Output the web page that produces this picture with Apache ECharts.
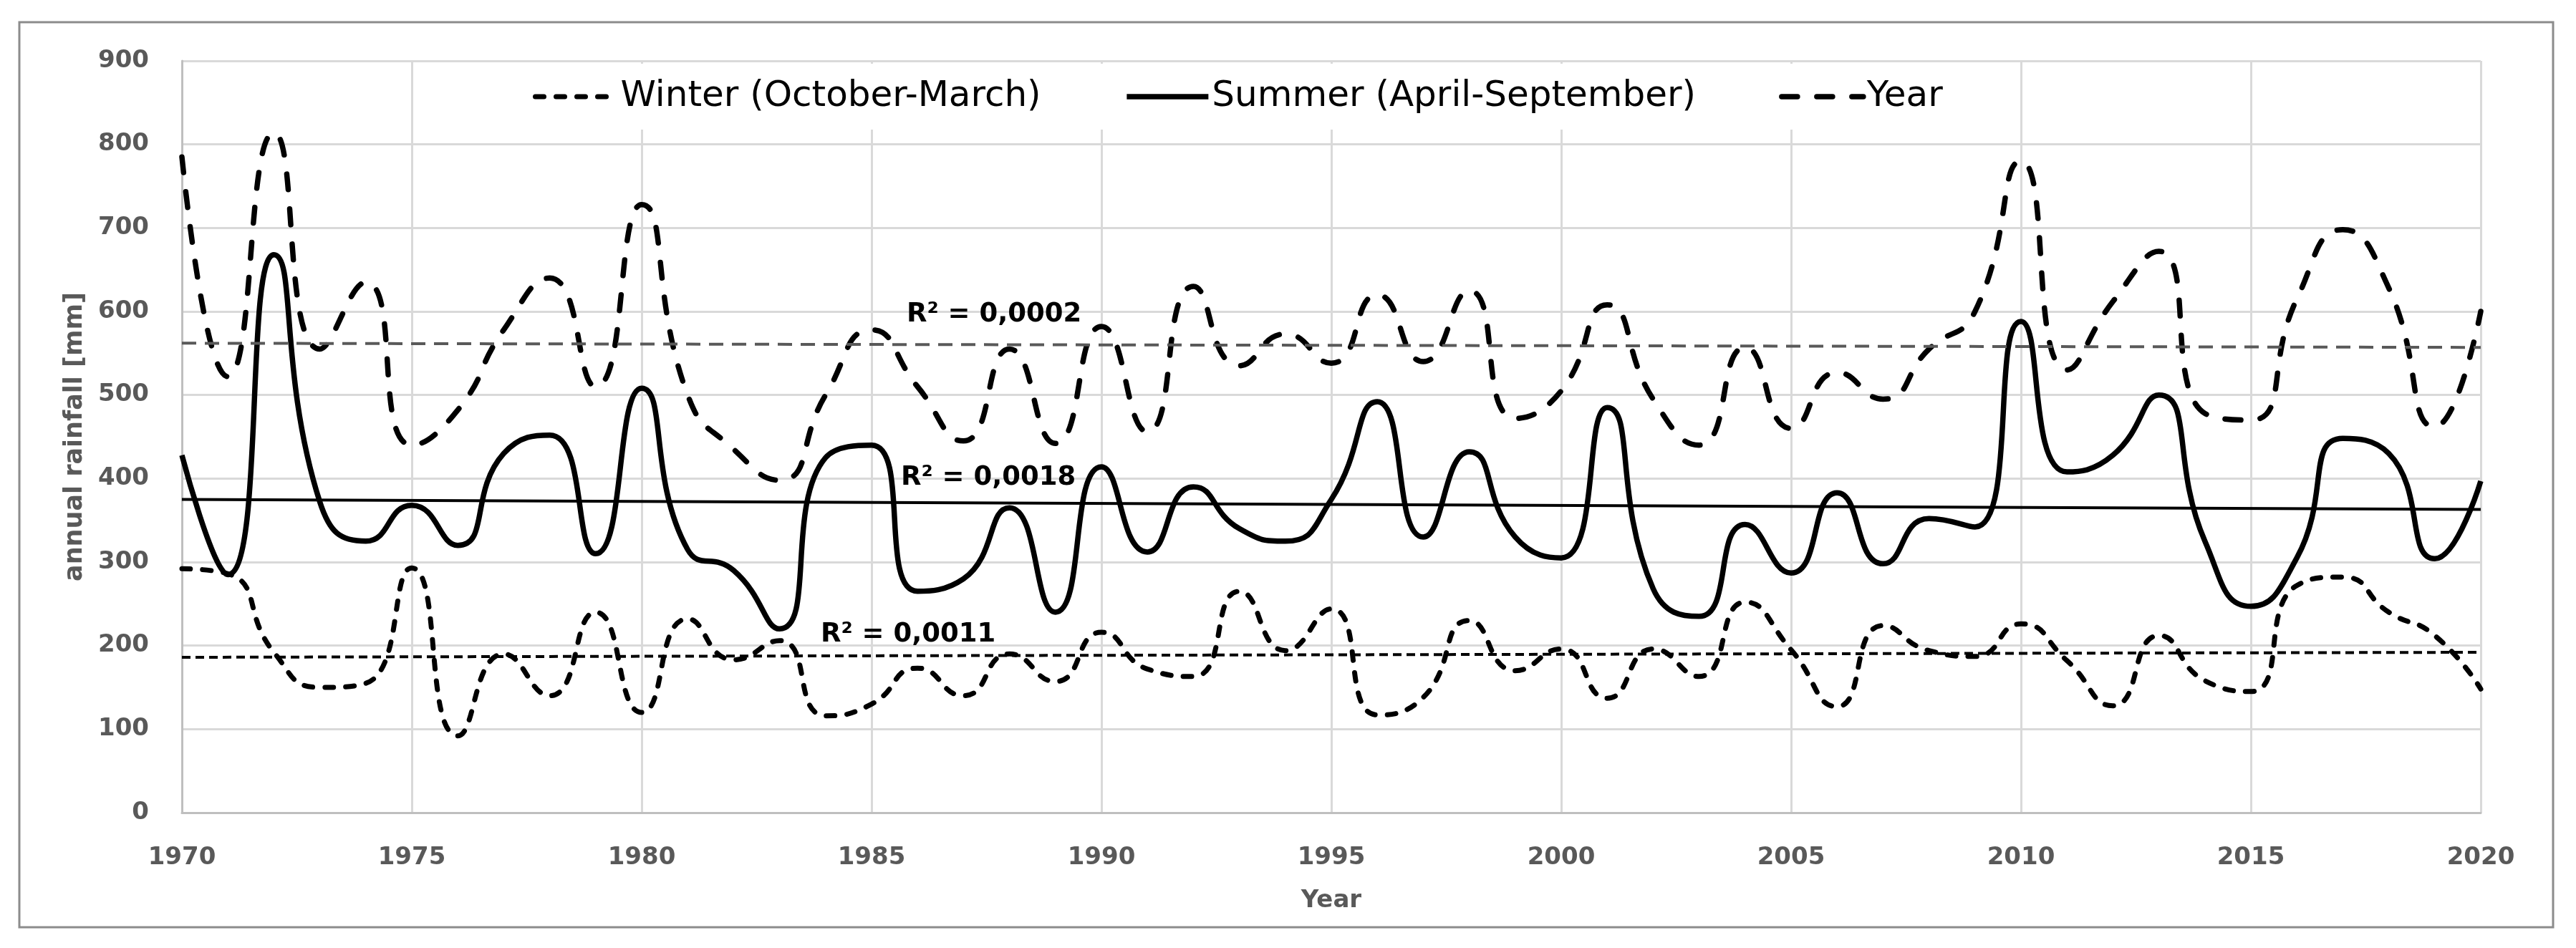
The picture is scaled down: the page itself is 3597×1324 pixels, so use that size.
<!DOCTYPE html>
<html>
<head>
<meta charset="utf-8">
<script src="https://cdn.jsdelivr.net/npm/echarts@6/dist/echarts.min.js"></script>
<style>
  html, body { margin: 0; padding: 0; background: #fff; }
  #chart { width: 3597px; height: 1324px; }
</style>
</head>
<body>
<div id="chart"></div>
<script>
// ---- data ----
const years = [];
for (let y = 1970; y <= 2020; y++) years.push(y);

const winter = [292, 286, 192, 150, 155, 293, 92, 190, 140, 240,
                120, 232, 183, 206, 116, 130, 173, 140, 190, 157,
                216, 172, 163, 265, 194, 244, 117, 138, 230, 170,
                196, 137, 196, 163, 252, 195, 127, 224, 194, 187,
                226, 182, 128, 212, 158, 145, 272, 282, 240, 212,
                148];
const summer = [428, 285, 668, 372, 325, 368, 320, 430, 452, 310,
                508, 315, 290, 220, 425, 440, 265, 280, 365, 240,
                414, 312, 390, 340, 325, 375, 492, 330, 432, 330,
                305, 485, 268, 235, 345, 287, 383, 298, 352, 342,
                588, 408, 428, 500, 325, 247, 305, 448, 430, 304,
                397];
const yearTotal = [785, 522, 814, 555, 635, 440, 482, 578, 640, 510,
                   728, 500, 435, 398, 500, 578, 510, 445, 555, 442,
                   582, 456, 630, 535, 573, 538, 620, 540, 625, 472,
                   505, 608, 495, 440, 557, 460, 527, 495, 555, 600,
                   780, 530, 612, 672, 478, 470, 615, 698, 628, 462,
                   600];

// linear trend end points (1970, 2020)
const trendYears = [1970, 2020];
const trendWinter = [186, 192];
const trendSummer = [375, 363];
const trendYear = [562, 557];

const seriesNames = ['Winter (October-March)', 'Summer (April-September)', 'Year'];
const r2Texts = ['R² = 0,0002', 'R² = 0,0018', 'R² = 0,0011'];

const yTicks = { min: 0, max: 900, step: 100 };
const xTicks = { min: 1970, max: 2020, step: 5 };

// ---- build ----
const pair = (xs, ys) => xs.map((x, i) => [x, ys[i]]);
const FONT = '"DejaVu Sans", sans-serif';

const styleWinter = { color: '#000', width: 7, type: [12, 17], cap: 'round' };
const styleSummer = { color: '#000', width: 7.5 };
const styleYear = { color: '#000', width: 7.5, type: [22, 27], cap: 'round' };
const SMOOTH = 0.55;

const chart = echarts.init(document.getElementById('chart'), null, { renderer: 'canvas' });

const option = {
  animation: false,
  backgroundColor: '#ffffff',
  grid: { left: 254, right: 133, top: 85, bottom: 189, containLabel: false },
  legend: {
    data: [
      { name: seriesNames[0], lineStyle: styleWinter },
      { name: seriesNames[1], lineStyle: styleSummer },
      { name: seriesNames[2], lineStyle: styleYear }
    ],
    left: 734,
    top: 89,
    padding: [17, 10, 17, 10],
    backgroundColor: '#ffffff',
    itemWidth: 114,
    itemHeight: 14,
    itemGap: 116,
    selectedMode: false,
    itemStyle: { opacity: 0, borderWidth: 0 },
    textStyle: { fontFamily: FONT, fontSize: 50, color: '#000000', lineHeight: 58 }
  },
  xAxis: {
    type: 'value',
    min: xTicks.min, max: xTicks.max, interval: xTicks.step,
    name: 'Year',
    nameLocation: 'middle',
    nameGap: 106,
    nameTextStyle: { fontFamily: FONT, fontSize: 34, fontWeight: 'bold', color: '#595959' },
    axisLine: { show: true, lineStyle: { color: '#bfbfbf', width: 3 } },
    axisTick: { show: false },
    axisLabel: { margin: 46, fontFamily: FONT, fontSize: 34, fontWeight: 'bold', color: '#595959',
                 formatter: v => String(v) },
    splitLine: { show: true, lineStyle: { color: '#d9d9d9', width: 3 } }
  },
  yAxis: {
    type: 'value',
    min: yTicks.min, max: yTicks.max, interval: yTicks.step,
    name: 'annual rainfall [mm]',
    nameLocation: 'middle',
    nameGap: 132,
    nameRotate: 90,
    nameTextStyle: { fontFamily: FONT, fontSize: 35, fontWeight: 'bold', color: '#595959' },
    axisLine: { show: true, lineStyle: { color: '#bfbfbf', width: 3 } },
    axisTick: { show: false },
    axisLabel: { margin: 46, fontFamily: FONT, fontSize: 34, fontWeight: 'bold', color: '#595959' },
    splitLine: { show: true, lineStyle: { color: '#d9d9d9', width: 3 } }
  },
  series: [
    {
      name: seriesNames[0], type: 'line', data: pair(years, winter),
      smooth: SMOOTH, symbol: 'none', silent: true, z: 3,
      lineStyle: styleWinter, itemStyle: { color: '#000' }
    },
    {
      name: seriesNames[1], type: 'line', data: pair(years, summer),
      smooth: SMOOTH, symbol: 'none', silent: true, z: 3,
      lineStyle: styleSummer, itemStyle: { color: '#000' }
    },
    {
      name: seriesNames[2], type: 'line', data: pair(years, yearTotal),
      smooth: SMOOTH, symbol: 'none', silent: true, z: 3,
      lineStyle: styleYear, itemStyle: { color: '#000' }
    },
    {
      name: 'trendWinter', type: 'line', data: pair(trendYears, trendWinter),
      symbol: 'none', silent: true, z: 4,
      lineStyle: { color: '#000', width: 4, type: [12, 7] }
    },
    {
      name: 'trendSummer', type: 'line', data: pair(trendYears, trendSummer),
      symbol: 'none', silent: true, z: 4,
      lineStyle: { color: '#000', width: 4 }
    },
    {
      name: 'trendYear', type: 'line', data: pair(trendYears, trendYear),
      symbol: 'none', silent: true, z: 4,
      lineStyle: { color: '#595959', width: 4, type: [20, 12] }
    }
  ],
  graphic: [
    {
      type: 'rect', silent: true, z: -10,
      shape: { x: 27, y: 31, width: 3538, height: 1264 },
      style: { fill: 'none', stroke: '#8c8c8c', lineWidth: 3 }
    },
    {
      type: 'text', silent: true, z: 100, x: 1266, y: 439,
      style: { text: r2Texts[0], font: 'bold 37px ' + FONT, fill: '#000', verticalAlign: 'middle' }
    },
    {
      type: 'text', silent: true, z: 100, x: 1258, y: 667,
      style: { text: r2Texts[1], font: 'bold 37px ' + FONT, fill: '#000', verticalAlign: 'middle' }
    },
    {
      type: 'text', silent: true, z: 100, x: 1146, y: 886,
      style: { text: r2Texts[2], font: 'bold 37px ' + FONT, fill: '#000', verticalAlign: 'middle' }
    }
  ]
};

chart.setOption(option);
</script>
</body>
</html>
